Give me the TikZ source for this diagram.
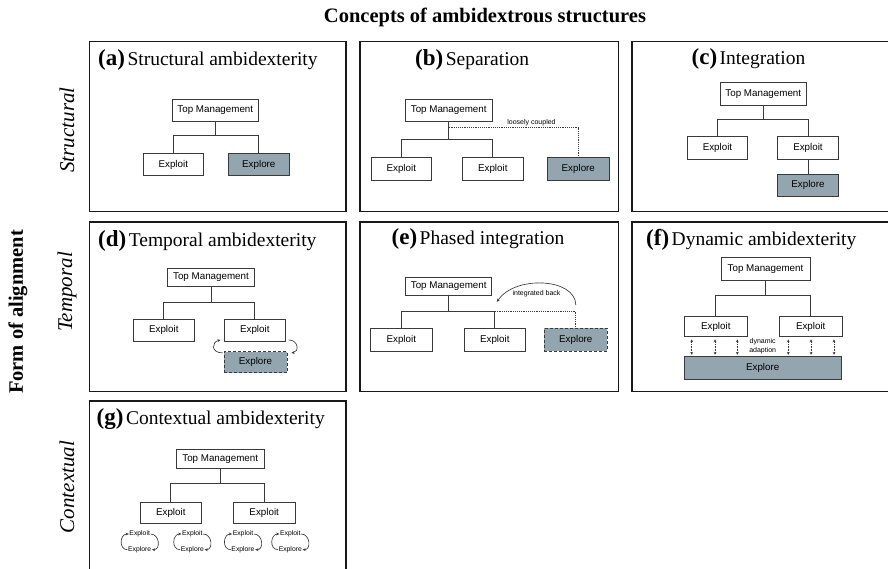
\documentclass[tikz,border=0pt]{standalone}
\usepackage{fontspec}
\setmainfont{Liberation Serif}
\newfontfamily\sansf{Liberation Sans}
\usetikzlibrary{calc,arrows.meta}
\definecolor{explorefill}{HTML}{93A6AF}
\definecolor{lineg}{HTML}{3A3A3A}
\newcommand\ptitle[2]{{\fontsize{23}{24}\selectfont\bfseries(#1)} {\fontsize{19.5}{21}\selectfont #2}}
\begin{document}
\begin{tikzpicture}[x=1pt,y=-1pt,
  frame/.style={draw=black!90, line width=1.8pt},
  box/.style={draw=lineg, line width=0.85pt, fill=white, font=\sansf\fontsize{9.8}{11}\selectfont, inner sep=0pt, minimum height=22pt},
  expl/.style={box, fill=explorefill},
  dexpl/.style={expl, densely dashed, line width=0.65pt},
  conn/.style={draw=lineg, line width=0.85pt},
  dotl/.style={draw=lineg, line width=0.85pt, densely dotted},
  ptit/.style={anchor=base west, inner sep=0pt},
  tiny/.style={font=\sansf\fontsize{7}{9.5}\selectfont, inner sep=0pt},
  micro/.style={font=\sansf\fontsize{6.8}{7.5}\selectfont, inner sep=0.5pt},
  carr/.style={draw=lineg, line width=0.65pt, -{Stealth[length=3.2pt,width=2.8pt]}},
  dar/.style={draw=lineg, line width=0.7pt, dash pattern=on 1.6pt off 1pt, {Stealth[length=2.8pt,width=2.8pt]}-{Stealth[length=2.8pt,width=2.8pt]}},
  side/.style={rotate=90, font=\fontsize{21}{22}\selectfont\itshape, inner sep=0pt},
]
\useasboundingbox (0,0) rectangle (888,569);
\fill[white] (0,0) rectangle (888,569);
\clip (0,0) rectangle (888,569);

% titles and side labels
\node[font=\fontsize{20.5}{22}\selectfont\bfseries, anchor=base, inner sep=0pt] (title) at (485,23) {Concepts of ambidextrous structures};
\node[rotate=90, font=\fontsize{20.5}{22}\selectfont\bfseries, inner sep=0pt] (form) at (18,312) {Form of alignment};
\node[side] (sS) at (67,130) {Structural};
\node[side] (sT) at (67,292) {Temporal};
\node[side] (sC) at (67,487) {Contextual};

% frames
\draw[frame] (89.5,41.5) rectangle (346,211.5);
\draw[frame] (360,41.5) rectangle (618.5,211.5);
\draw[frame] (632,41.5) rectangle (900,211.5);
\draw[frame] (89.5,222) rectangle (346,391.5);
\draw[frame] (360,222) rectangle (618.5,391.5);
\draw[frame] (632,222) rectangle (900,391.5);
\draw[frame] (89.5,401) rectangle (346,590);

% panel titles
\node[ptit] (ta) at (98,66) {\ptitle{a}{Structural ambidexterity}};
\node[ptit] (tb) at (415,66) {\ptitle{b}{Separation}};
\node[ptit] (tc) at (691.5,65) {\ptitle{c}{Integration}};
\node[ptit] (td) at (98,246.5) {\ptitle{d}{Temporal ambidexterity}};
\node[ptit] (te) at (391.5,245) {\ptitle{e}{Phased integration}};
\node[ptit] (tf) at (646,245.5) {\ptitle{f}{Dynamic ambidexterity}};
\node[ptit] (tg) at (96.5,424.5) {\ptitle{g}{Contextual ambidexterity}};

% (a)
\node[box, minimum width=86.7pt] (aT) at (215.3,110) {Top Management};
\node[box, minimum width=60.7pt, minimum height=22.7pt] (aX) at (173.3,164.5) {Exploit};
\node[expl, minimum width=60.3pt, minimum height=22.7pt] (aE) at (258.8,164.5) {Explore};
\coordinate (aJ) at ($(aT.south)+(0,14)$);
\draw[conn] (aT.south) -- (aJ);
\draw[conn] (aX.north) |- (aJ) -| (aE.north);

% (b)
\node[box, minimum width=87.3pt] (bT) at (448.7,110.2) {Top Management};
\node[box, minimum width=60.7pt, minimum height=22.3pt] (bX1) at (401.3,169) {Exploit};
\node[box, minimum width=61pt, minimum height=22.3pt] (bX2) at (492.8,169) {Exploit};
\node[expl, minimum width=61.3pt, minimum height=22.3pt] (bE) at (578.3,169) {Explore};
\coordinate (bJ) at ($(bT.south)+(0,18)$);
\coordinate (bD) at ($(bT.south)+(0,6)$);
\draw[conn] (bT.south) -- (bJ);
\draw[conn] (bX1.north) |- (bJ) -| (bX2.north);
\draw[dotl] (bD) -| (bE.north);
\node[tiny] (bL) at (531.5,122.5) {loosely coupled};

% (c)
\node[box, minimum width=85.3pt, minimum height=22.3pt] (cT) at (763.3,93.8) {Top Management};
\node[box, minimum width=60.4pt, minimum height=22.3pt] (cX1) at (717.5,147.8) {Exploit};
\node[box, minimum width=60.6pt, minimum height=22.3pt] (cX2) at (808,147.8) {Exploit};
\node[expl, minimum width=60.6pt] (cE) at (808,185) {Explore};
\coordinate (cJ) at ($(cT.south)+(0,14.3)$);
\draw[conn] (cT.south) -- (cJ);
\draw[conn] (cX1.north) |- (cJ) -| (cX2.north);
\draw[conn] (cX2.south) -- (cE.north);

% (d)
\node[box, minimum width=87.4pt, minimum height=18.4pt] (dT) at (211,277.5) {Top Management};
\node[box, minimum width=61.7pt, minimum height=21.7pt] (dX1) at (163.8,330.2) {Exploit};
\node[box, minimum width=61.7pt, minimum height=21.7pt] (dX2) at (254.8,330.2) {Exploit};
\node[dexpl, minimum width=63pt, minimum height=21pt] (dE) at (255.5,362.2) {Explore};
\coordinate (dJ) at ($(dT.south)+(0,15)$);
\draw[conn] (dT.south) -- (dJ);
\draw[conn] (dX1.north) |- (dJ) -| (dX2.north);
\draw[carr] ($(dE.north west)+(-1,1.5)$) .. controls +(-12,0) and +(-9,2) .. ($(dX2.south west)+(-3,-1.5)$);
\draw[carr] ($(dX2.south east)+(2.5,-1.5)$) .. controls +(10,0) and +(8,-1) .. ($(dE.north east)+(4,1.5)$);

% (e)
\node[box, minimum width=86pt, minimum height=18pt] (eT) at (448.7,286.5) {Top Management};
\node[box, minimum width=62.7pt, minimum height=22.7pt] (eX1) at (401.3,339.7) {Exploit};
\node[box, minimum width=61.7pt, minimum height=22.7pt] (eX2) at (494.8,339.7) {Exploit};
\node[dexpl, minimum width=63pt, minimum height=22.7pt] (eE) at (575.8,339.7) {Explore};
\coordinate (eJ) at ($(eT.south)+(0,15.2)$);
\draw[conn] (eT.south) -- (eJ);
\draw[conn] (eX1.north) |- (eJ) -| (eX2.north);
\draw[dotl] (eJ -| eX2.north) -| (eE.north);
\draw[carr] ($(eE.north)+(0,-23)$) .. controls +(0,-27) and +(18,-27) .. ($(eX2.north)+(2,-26)$);
\node[tiny] (eL) at (536.5,294) {integrated back};

% (f)
\node[box, minimum width=89pt, minimum height=22.3pt] (fT) at (765.5,268.8) {Top Management};
\node[box, minimum width=63pt, minimum height=20pt] (fX1) at (715.8,326.7) {Exploit};
\node[box, minimum width=63.3pt, minimum height=20pt] (fX2) at (810.7,326.7) {Exploit};
\node[expl, minimum width=156.7pt, minimum height=23pt] (fE) at (762.7,367.5) {Explore};
\coordinate (fJ) at ($(fT.south)+(0,15)$);
\draw[conn] (fT.south) -- (fJ);
\draw[conn] (fX1.north) |- (fJ) -| (fX2.north);
\foreach \dx in {-24.1,-0.8,21.5} \draw[dar] ($(fX1.south)+(\dx,2.3)$) -- ($(fX1.south)+(\dx,17.6)$);
\foreach \dx in {-22.4,0.3,23.3} \draw[dar] ($(fX2.south)+(\dx,2.3)$) -- ($(fX2.south)+(\dx,17.6)$);
\node[tiny, align=center] (fL) at (762.7,346) {dynamic\\adaption};

% (g)
\node[box, minimum width=87.7pt, minimum height=18.3pt] (gT) at (220.2,458.8) {Top Management};
\node[box, minimum width=61pt, minimum height=21pt] (gX1) at (170.8,512.5) {Exploit};
\node[box, minimum width=62.3pt, minimum height=21pt] (gX2) at (264.2,512.5) {Exploit};
\coordinate (gJ) at ($(gT.south)+(0,15)$);
\draw[conn] (gT.south) -- (gJ);
\draw[conn] (gX1.north) |- (gJ) -| (gX2.north);
\foreach \i/\cx in {1/139.7, 2/192.3, 3/243, 4/290.3} {
  \node[micro] (gA\i) at (\cx,534) {Exploit};
  \node[micro] (gB\i) at (\cx,549.7) {Explore};
  \draw[carr] (gB\i.west) .. controls +(-9,0) and +(-9,0) .. (gA\i.west);
  \draw[carr] (gA\i.east) .. controls +(9,0) and +(9,0) .. (gB\i.east);
}
\end{tikzpicture}
\end{document}
